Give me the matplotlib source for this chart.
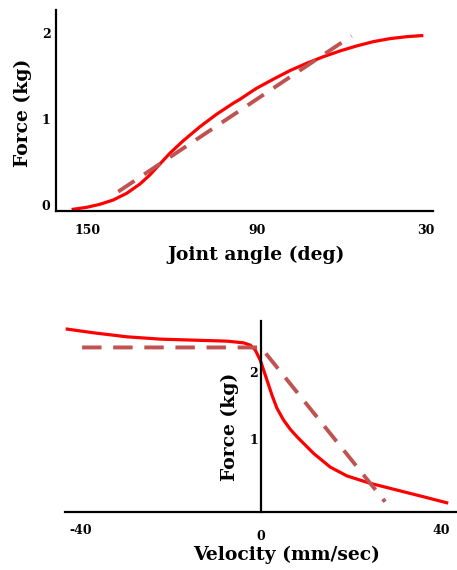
import matplotlib
matplotlib.use("Agg")
import matplotlib.pyplot as plt

plt.rcParams['font.family'] = ['DejaVu Serif']
plt.rcParams['axes.unicode_minus'] = False

# top panel: force vs joint angle
angle = [155.1, 150.3, 145.6, 140.9, 136.1, 131.4, 127.9, 124.3, 120.8, 116.0, 110.1,
         104.2, 98.3, 95.9, 92.4, 90.0, 84.1, 78.2, 72.2, 66.3, 60.4, 54.5, 48.6, 42.7,
         36.7, 31.4]
force_angle = [-0.05, -0.027, 0.008, 0.058, 0.136, 0.244, 0.349, 0.477, 0.601, 0.748, 0.91,
               1.055, 1.183, 1.229, 1.306, 1.357, 1.462, 1.562, 1.648, 1.724, 1.791, 1.849,
               1.899, 1.934, 1.957, 1.969]
fit_angle = [139.1, 56.3]
fit_force_angle = [0.155, 1.965]
angle_ticks = [150, 90, 30]
force_ticks = [0, 1, 2]

# bottom panel: force vs velocity
velocity = [-43.1, -37.2, -29.8, -22.4, -15.0, -7.56, -3.87, -2.38, -1.27, -0.16, 0.58,
            1.33, 2.44, 3.56, 5.02, 6.5, 8.0, 11.69, 15.4, 19.1, 24.3, 30.2, 36.1, 41.3]
force_vel = [2.63, 2.575, 2.516, 2.482, 2.467, 2.452, 2.427, 2.393, 2.32, 2.17, 2.024,
             1.876, 1.654, 1.458, 1.285, 1.15, 1.039, 0.793, 0.59, 0.46, 0.35, 0.251, 0.152,
             0.063]
fit_vel = [-39.8, 0.0, 27.6]
fit_force_vel = [2.359, 2.359, 0.078]
vel_ticks = [-40, 0, 40]
force_ticks2 = [1, 2]

RED = '#ff0000'
DASH = '#c05252'
LABEL = dict(fontsize=13.5, fontweight='bold', va='center', ha='center')

fig = plt.figure(figsize=(4.57, 5.70), dpi=100)

ax1 = fig.add_axes([56 / 457, 359 / 570, 377 / 457, 201 / 570])
ax1.plot(angle, force_angle, color=RED, lw=2.3, solid_joinstyle='round')
ax1.plot(fit_angle, fit_force_angle, color=DASH, lw=2.8, dashes=(5, 3))
ax1.set_xlim(161.2, 27.4)
ax1.set_ylim(-0.07, 2.267)
ax1.set_xticks(angle_ticks)
ax1.set_yticks(force_ticks)
ax1.tick_params(axis='x', length=0, pad=9, labelsize=9)
ax1.tick_params(axis='y', length=0, pad=4, labelsize=9)
for s in ('top', 'right'):
    ax1.spines[s].set_visible(False)
for s in ('left', 'bottom'):
    ax1.spines[s].set_linewidth(1.6)
ax1.set_xlabel('Joint angle (deg)', **LABEL)
ax1.set_ylabel('Force (kg)', **LABEL)
ax1.xaxis.set_label_coords(0.53, -0.219)
ax1.yaxis.set_label_coords(-0.0875, 0.4876)

ax2 = fig.add_axes([65 / 457, 58 / 570, 392 / 457, 191 / 570])
ax2.plot(velocity, force_vel, color=RED, lw=2.3, solid_joinstyle='round')
ax2.plot(fit_vel, fit_force_vel, color=DASH, lw=2.8, dashes=(5, 3))
ax2.set_xlim(-43.6, 43.6)
ax2.set_ylim(-0.074, 2.75)
ax2.spines['left'].set_position(('data', 0))
for s in ('top', 'right'):
    ax2.spines[s].set_visible(False)
for s in ('left', 'bottom'):
    ax2.spines[s].set_linewidth(1.6)
ax2.set_xticks(vel_ticks)
ax2.set_yticks(force_ticks2)
ax2.tick_params(axis='x', length=0, pad=9, labelsize=9)
ax2.tick_params(axis='y', length=0, pad=2, labelsize=9)
for t, v in zip(ax2.xaxis.get_major_ticks(), vel_ticks):
    if v == 0:
        t.set_pad(13)
ax2.set_xlabel('Velocity (mm/sec)', **LABEL)
ax2.set_ylabel('Force (kg)', **LABEL)
ax2.xaxis.set_label_coords(0.564, -0.225)
ax2.yaxis.set_label_coords(0.421, 0.445)

for ax in (ax1, ax2):
    for lbl in ax.get_xticklabels() + ax.get_yticklabels():
        lbl.set_fontweight('bold')

fig.savefig('out.png', dpi=100)
